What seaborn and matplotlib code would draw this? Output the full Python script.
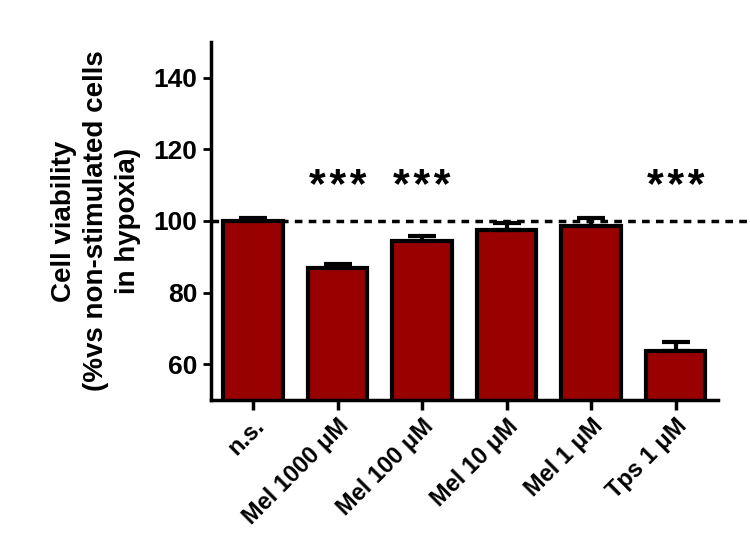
import numpy as np
import pandas as pd
import seaborn as sns
import matplotlib.pyplot as plt

# values
groups = ["n.s.", "Mel 1000 \u03bcM", "Mel 100 \u03bcM", "Mel 10 \u03bcM", "Mel 1 \u03bcM", "Tps 1 \u03bcM"]
viability = [100.0, 86.8, 94.3, 97.5, 98.7, 63.8]
sem = [0.9, 1.2, 1.4, 2.0, 2.2, 2.3]
stars = ["", "***", "***", "", "", "***"]

df = pd.DataFrame({"group": groups, "viability": viability})

sns.set_style("ticks")
plt.rcParams["font.family"] = ["Liberation Sans", "DejaVu Sans"]
plt.rcParams["font.weight"] = "bold"
plt.rcParams["text.color"] = "black"
plt.rcParams["xtick.color"] = "black"
plt.rcParams["ytick.color"] = "black"
plt.rcParams["axes.edgecolor"] = "black"

fig = plt.figure(figsize=(7.5, 5.58), dpi=100)
ax = fig.add_axes([0.281, 0.283, 0.676, 0.642])

ax.plot([-0.5, 5.9], [100, 100], color="black", lw=2.5, ls=(0, (2.2, 1.8)),
        zorder=1, clip_on=False)

sns.barplot(data=df, x="group", y="viability", color="#990000",
            edgecolor="black", linewidth=3, width=0.7, saturation=1,
            errorbar=None, ax=ax, zorder=2)

x = np.arange(len(groups))
ax.errorbar(x, viability, yerr=[np.zeros(len(sem)), sem], fmt="none",
            ecolor="black", elinewidth=3, capsize=10, capthick=3, zorder=3)

for i, s in enumerate(stars):
    if s:
        ax.text(i, 109.5, "\u200a".join(s), ha="center", va="center",
                fontsize=31, fontweight="bold", color="black")

ax.set_ylim(50, 150)
ax.set_xlim(-0.5, 5.5)
ax.set_yticks([60, 80, 100, 120, 140])
ax.set_xlabel("")
ax.set_ylabel("Cell viability\n(%vs non-stimulated cells\nin hypoxia)",
              fontsize=20, fontweight="bold", labelpad=9, linespacing=1.3,
              color="black")
ax.tick_params(axis="y", labelsize=19, width=2, length=6, colors="black")
ax.tick_params(axis="x", labelsize=17, width=2.5, length=7, colors="black")
plt.setp(ax.get_xticklabels(), rotation=45, ha="right", rotation_mode="anchor",
         fontweight="bold")
plt.setp(ax.get_yticklabels(), fontweight="bold")

sns.despine(ax=ax)
for sp in ["left", "bottom"]:
    ax.spines[sp].set_linewidth(2.5)
    ax.spines[sp].set_color("black")

fig.savefig("out.png", dpi=100)
